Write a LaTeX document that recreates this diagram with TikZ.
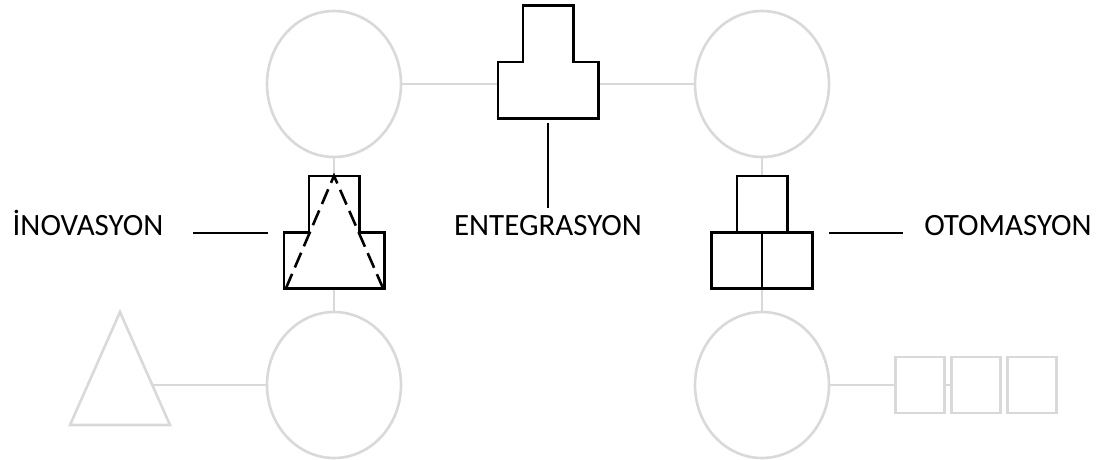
\documentclass[tikz,border=0pt]{standalone}
\usepackage{fontspec}
\setmainfont{Carlito}
\usetikzlibrary{positioning,shapes.geometric,calc}
\definecolor{paleline}{HTML}{D9D9D9}

\begin{document}
\begin{tikzpicture}[x=1pt,y=-1pt,
    faint/.style={draw=paleline,line width=2.6pt},
    ring/.style={ellipse,faint,minimum width=134pt,minimum height=146pt,inner sep=0pt},
    cell/.style={rectangle,minimum width=50pt,minimum height=56pt,inner sep=0pt},
    bold/.style={draw=black,line width=2.6pt},
    tag/.style={font=\fontsize{31}{36}\selectfont,inner sep=0pt,anchor=base}]
    \useasboundingbox (0,0) rectangle (1102,460);

    % Rings
    \node[ring] (ringTL) at (334,84) {};
    \node[ring] (ringTR) at (762,84) {};
    \node[ring] (ringBL) at (334,385) {};
    \node[ring] (ringBR) at (762,385) {};

    % Pale triangle
    \coordinate (triTop) at (120,312);
    \coordinate (triLeft) at (70,425);
    \coordinate (triRight) at (170,425);
    \coordinate (triEdge) at ($(triTop)!0.645!(triRight)$);
    \draw[faint,line join=miter] (triTop) -- (triLeft) -- (triRight) -- cycle;

    % Pale squares
    \node[cell,faint,minimum width=49pt] (sqA) at (920,385) {};
    \node[cell,faint,minimum width=49pt,right=4.5pt of sqA] (sqB) {};
    \node[cell,faint,minimum width=49pt,right=4.5pt of sqB] (sqC) {};

    % Entegrasyon block
    \node[cell] (entTop) at (548,34) {};
    \node[cell,minimum width=100pt,below=0pt of entTop] (entBot) {};

    % Inovasyon block
    \node[cell] (inoTop) at (334,204) {};
    \node[cell,minimum width=100pt,below=0pt of inoTop] (inoBot) {};

    % Otomasyon block
    \node[cell] (otoTop) at (762,204) {};
    \node[cell,anchor=north east] (otoL) at (otoTop.south) {};
    \node[cell,anchor=north west] (otoR) at (otoTop.south) {};

    % Pale links
    \draw[faint] (ringTL.east) -- (ringTL.east -| entBot.west);
    \draw[faint] (ringTR.west -| entBot.east) -- (ringTR.west);
    \draw[faint] (ringTL.south) -- (ringBL.north);
    \draw[faint] (ringTR.south) -- (ringBR.north);
    \draw[faint] (triEdge) -- (triEdge -| ringBL.west);
    \draw[faint] (ringBR.east) -- (sqA.west);
    \draw[faint] (sqA.east) -- (sqB.west);

    % Black outlines
    \draw[bold,fill=white] (entBot.south west) -- (entBot.north west) -- (entTop.south west)
        -- (entTop.north west) -- (entTop.north east) -- (entTop.south east)
        -- (entBot.north east) -- (entBot.south east) -- cycle;
    \draw[bold,fill=white] (inoBot.south west) -- (inoBot.north west) -- (inoTop.south west)
        -- (inoTop.north west) -- (inoTop.north east) -- (inoTop.south east)
        -- (inoBot.north east) -- (inoBot.south east) -- cycle;
    \draw[bold,dash pattern=on 16pt off 7pt] ([xshift=2pt]inoBot.south west) -- (inoTop.north)
        -- ([xshift=-1pt]inoBot.south east);
    \draw[bold,fill=white] (otoTop.north west) rectangle (otoTop.south east);
    \draw[bold,fill=white] (otoL.north west) rectangle (otoL.south east);
    \draw[bold,fill=white] (otoR.north west) rectangle (otoR.south east);

    % Labels
    \node[tag] (inoText) at (88,235) {İNOVASYON};
    \node[tag] (entText) at (548,235) {ENTEGRASYON};
    \node[tag] (otoText) at (1008,235) {OTOMASYON};

    % Leaders
    \coordinate (inoLeadA) at (193,233);
    \coordinate (inoLeadB) at (268,233);
    \coordinate (entLeadA) at ($(entBot.south)+(0,4)$);
    \coordinate (entLeadB) at (548,208);
    \coordinate (otoLeadA) at (829,233);
    \coordinate (otoLeadB) at (903,233);
    \draw[bold] (inoLeadA) -- (inoLeadB);
    \draw[bold] (entLeadA) -- (entLeadB);
    \draw[bold] (otoLeadA) -- (otoLeadB);
\end{tikzpicture}
\end{document}
